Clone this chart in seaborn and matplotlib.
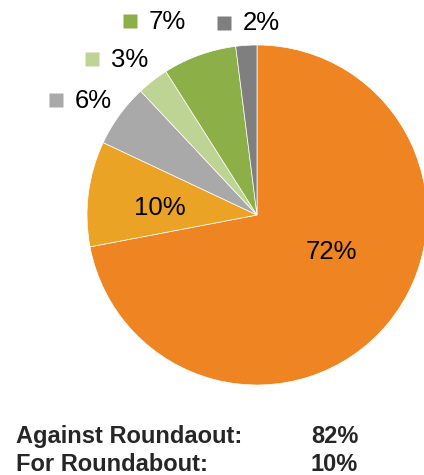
import matplotlib
matplotlib.use("Agg")
import matplotlib.pyplot as plt
import seaborn as sns

# data
shares = [72, 10, 6, 3, 7, 2]
slice_colors = ["#EE8422", "#EBA325", "#A9A9A9", "#BED495", "#8CAF47", "#7F7F7F"]
summary_labels = ["Against Roundaout:", "For Roundabout:"]
summary_values = ["82%", "10%"]

sns.set_theme(style="white")
plt.rcParams['font.family'] = ['Liberation Sans', 'DejaVu Sans']

fig = plt.figure(figsize=(4.24, 4.75), dpi=100)
ax = fig.add_axes([0, 0, 1, 1])

# pie in pixel-like coordinates (y up)
wedges, _ = ax.pie(shares, colors=slice_colors, startangle=90, counterclock=False,
                   center=(257, 260), radius=170, frame=True,
                   wedgeprops=dict(edgecolor="white", linewidth=0.5))

# labels inside the two big slices
inside_pos = {0: (331, 223), 1: (160, 267)}
for i, (x, y) in inside_pos.items():
    ax.text(x, y, f"{shares[i]}%", ha="center", va="center", fontsize=18.5, color="black")

# outside labels with legend keys
outside_pos = {2: (56, 375.5), 3: (92, 416), 4: (130, 454), 5: (223.5, 452.5)}
for i, (x, y) in outside_pos.items():
    ax.plot(x, y, marker="s", ms=10.5, color=slice_colors[i], mec="none")
    ax.text(x + 19, y - 1, f"{shares[i]}%", ha="left", va="center", fontsize=18.5, color="black")

# summary text under the pie
for k, (lab, val) in enumerate(zip(summary_labels, summary_values)):
    yb = 32 - k * 28
    ax.text(16, yb, lab, ha="left", va="baseline", fontsize=17, fontweight="bold")
    ax.text(311, yb, val, ha="left", va="baseline", fontsize=17, fontweight="bold")

ax.set_xlim(0, 424)
ax.set_ylim(0, 475)
ax.set_aspect("auto")
ax.axis("off")

fig.savefig("out.png", dpi=100)
